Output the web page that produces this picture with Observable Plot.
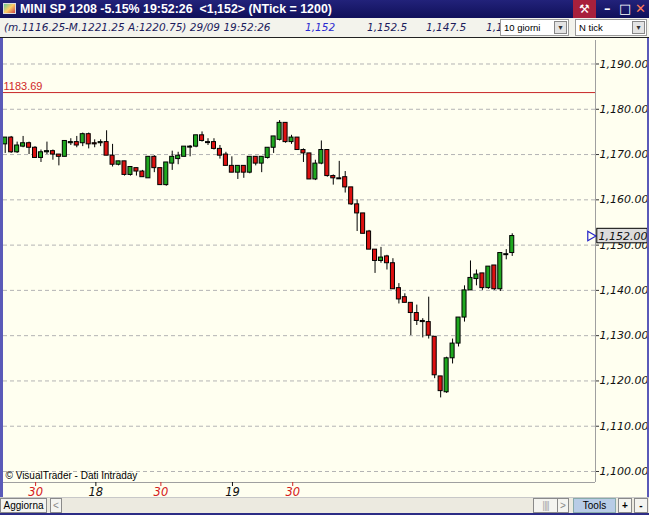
<!DOCTYPE html>
<html>
<head>
<meta charset="utf-8">
<script src="https://cdn.jsdelivr.net/npm/d3@7"></script>
<script src="https://cdn.jsdelivr.net/npm/@observablehq/plot@0.6"></script>
<style>
  html, body { margin: 0; padding: 0; }
  body { width: 649px; height: 515px; overflow: hidden; background: #2c2c86; position: relative; font-family: "DejaVu Sans", sans-serif; }
  #title { position: absolute; left: 0; top: 0; width: 649px; height: 18px; background: linear-gradient(#22227a, #10105a); color: #fff; }
  #title .t { position: absolute; left: 20px; top: 2px; font: bold 12.4px "Liberation Sans", sans-serif; white-space: nowrap; }
  #title .ico { position: absolute; left: 3px; top: 3px; width: 13px; height: 11px; background: linear-gradient(135deg, #6c9 0%, #fc6 50%, #c44 100%); border: 1px solid #ddd; box-sizing: border-box; }
  #title .tool { position: absolute; left: 573px; top: 0; width: 23px; height: 18px; background: #a8203c; color: #fff; font: bold 12px "DejaVu Sans"; text-align: center; line-height: 18px; }
  #title .ctl { position: absolute; top: 0; color: #fff; font: bold 13px "DejaVu Sans"; line-height: 18px; }
  #info { position: absolute; left: 0; top: 18px; width: 649px; height: 19px; background: #f3f3ec; border-bottom: 1px solid #222; }
  #info .t { position: absolute; top: 3px; font: italic 10.5px "DejaVu Sans", sans-serif; color: #1c1c5c; white-space: nowrap; }
  .dd { position: absolute; top: 1px; height: 17px; background: #fff; border: 1px solid #9a9a9a; box-sizing: border-box; font: 9.5px "Liberation Sans", sans-serif; color: #000; line-height: 15px; padding-left: 3px; }
  .dd .b { position: absolute; right: 1px; top: 1px; width: 13px; height: 13px; background: #e4e4e4; border: 1px solid #888; box-sizing: border-box; font: 8px "DejaVu Sans"; text-align: center; line-height: 11px; color: #333; }
  #chart { position: absolute; left: 0; top: 38px; width: 649px; height: 459px; background: #fffff0; }
  #chart svg { display: block; }
  .strip { position: absolute; top: 38px; height: 459px; background: #5a5ab8; }
  #bottom { position: absolute; left: 0; top: 497px; width: 649px; height: 16px; background: #eceae0; border-top: 1px solid #c8c8c8; box-sizing: border-box; font: 10px "Liberation Sans", sans-serif; }
  #bottom .btn { position: absolute; top: 0; height: 15px; border: 1px solid #8a8a8a; box-sizing: border-box; background: #f4f4f0; text-align: center; line-height: 13px; color: #000; }
</style>
</head>
<body>
<div id="title">
  <div class="ico"></div>
  <div class="t">MINI SP 1208 -5.15% 19:52:26&nbsp; &lt;1,152&gt; (NTick = 1200)</div>
  <div class="tool">⚒</div>
  <div class="ctl" style="left:604px">–</div>
  <div class="ctl" style="left:619px">□</div>
  <div class="ctl" style="left:635px;color:#ff7b5a">✕</div>
</div>
<div id="info">
  <div class="t" style="left:4px">(m.1116.25-M.1221.25 A:1220.75) 29/09 19:52:26</div>
  <div class="t" style="left:305px;color:#2a2ad0">1,152</div>
  <div class="t" style="left:367px">1,152.5</div>
  <div class="t" style="left:426px">1,147.5</div>
  <div class="t" style="left:486px">1,1</div>
  <div class="dd" style="left:500px;width:69px">10 giorni<div class="b">▾</div></div>
  <div class="dd" style="left:575px;width:72px">N tick<div class="b">▾</div></div>
</div>
<div id="chart"></div>
<div class="strip" style="left:0;width:3px"></div>
<div class="strip" style="left:647px;width:2px"></div>
<div id="bottom">
  <div class="btn" style="left:0;width:47px">Aggiorna</div>
  <div class="btn" style="left:50px;width:12px;color:#888">&lt;</div>
  <div class="btn" style="left:533px;width:25px;color:#aaa;letter-spacing:-1px">||||</div>
  <div class="btn" style="left:557px;width:12px;color:#888">&gt;</div>
  <div class="btn" style="left:573px;width:43px;background:#b8cce6;border-color:#8aa">Tools</div>
  <div class="btn" style="left:618px;width:14px;font-weight:bold">+</div>
  <div class="btn" style="left:634px;width:14px;font-weight:bold">-</div>
</div>
<script>
// ---- data ----
const open = [1172.25,1173.75,1170.5,1171.75,1172.5,1171.5,1169.25,1170.5,1170.75,1170.0,
  1169.5,1172.5,1172.75,1172.5,1174.5,1172.5,1172.5,1172.75,1169.75,1167.75,
  1168.5,1165.5,1167.0,1166.25,1164.75,1169.5,1167.0,1163.25,1168.0,1169.0,
  1169.5,1171.75,1171.75,1174.25,1172.75,1172.75,1171.25,1170.0,1167.5,1166.0,
  1167.5,1166.0,1169.5,1168.0,1169.25,1171.5,1173.25,1177.0,1172.75,1173.75,
  1171.0,1170.25,1164.5,1168.0,1171.0,1165.25,1164.75,1165.0,1162.75,1159.0,
  1157.0,1153.0,1149.0,1146.5,1147.5,1146.0,1140.5,1138.5,1137.25,1135.0,
  1133.25,1133.0,1129.75,1121.0,1117.5,1125.0,1128.25,1134.0,1140.0,1142.5,
  1143.75,1140.5,1145.5,1140.25,1148.0,1148.25];
const high = [1173.75,1174.0,1172.75,1174.0,1172.75,1171.75,1171.0,1172.75,1171.0,1170.0,
  1173.0,1173.5,1174.0,1174.75,1174.75,1173.25,1173.25,1175.25,1172.25,1168.5,
  1168.5,1167.25,1167.0,1166.5,1169.5,1169.75,1167.0,1168.25,1170.75,1170.5,
  1171.75,1172.0,1174.25,1175.0,1173.5,1173.5,1172.0,1170.5,1169.5,1167.5,
  1167.5,1169.5,1169.5,1169.5,1171.5,1174.0,1177.5,1177.0,1174.25,1173.75,
  1171.25,1170.25,1168.75,1173.0,1171.0,1165.5,1168.5,1166.25,1162.75,1160.0,
  1157.0,1153.25,1149.0,1149.5,1147.75,1147.0,1141.5,1139.25,1137.25,1136.75,
  1133.75,1138.5,1129.75,1121.0,1125.25,1129.25,1134.0,1141.0,1146.5,1144.5,
  1143.75,1145.25,1145.5,1148.25,1149.0,1152.5];
const low = [1170.25,1170.25,1170.25,1171.5,1170.0,1169.25,1168.25,1170.0,1168.75,1167.5,
  1169.5,1172.0,1171.5,1171.75,1171.25,1171.5,1171.75,1169.75,1167.25,1167.5,
  1165.25,1165.25,1165.25,1165.0,1164.75,1166.0,1163.25,1163.0,1166.5,1167.75,
  1169.5,1169.5,1171.5,1172.75,1172.0,1171.0,1169.0,1167.5,1166.0,1164.5,
  1164.75,1165.75,1167.5,1166.0,1169.0,1170.25,1173.0,1172.5,1172.25,1171.0,
  1168.25,1164.5,1164.25,1167.75,1165.0,1163.25,1164.5,1161.5,1158.75,1153.0,
  1152.5,1149.0,1143.75,1146.0,1144.5,1140.25,1137.0,1137.25,1130.0,1132.25,
  1129.5,1129.25,1120.5,1116.25,1117.25,1123.75,1127.5,1133.0,1140.0,1141.0,
  1140.0,1140.25,1140.0,1139.75,1146.75,1147.5];
const close = [1173.75,1170.5,1172.0,1172.5,1171.5,1169.25,1170.5,1170.75,1170.0,1169.5,
  1173.0,1172.75,1172.0,1174.5,1172.25,1172.25,1172.75,1169.75,1167.75,1168.5,
  1165.5,1167.25,1166.25,1165.0,1169.5,1167.0,1163.25,1168.25,1169.5,1169.75,
  1171.75,1171.75,1174.25,1173.0,1172.75,1171.25,1169.75,1167.5,1166.0,1167.5,
  1166.0,1169.5,1168.0,1169.5,1171.5,1174.0,1177.0,1172.75,1173.75,1171.0,
  1170.25,1164.5,1168.0,1171.0,1165.25,1164.75,1164.75,1162.75,1159.0,1157.0,
  1152.5,1149.0,1146.5,1147.25,1146.0,1140.25,1138.0,1137.25,1135.0,1133.25,
  1133.0,1130.0,1121.25,1117.75,1125.0,1128.25,1134.0,1140.0,1142.75,1143.5,
  1140.5,1145.25,1140.25,1148.25,1148.0,1152.0];
const yTicks = [1100,1110,1120,1130,1140,1150,1160,1170,1180,1190];
const xTickPos = [5.1, 15.2, 26.1, 38.1, 48.2];
const xTickLabels = ["30","18","30","19","30"];
const xTickColors = ["#d42020","#111","#d42020","#111","#d42020"];
const refLevel = 1183.69;
const lastPrice = 1152;

// ---- table ----
const bars = open.map((o, i) => ({i, open: o, high: high[i], low: low[i], close: close[i]}));
const dojis = bars.filter(d => d.open === d.close);
const xDomain = [-0.285, 98.96];
const yDomain = [1097.57, 1195.19];
const RED = "#dd1010", GREEN = "#1fa81f";
const tickColor = new Map(xTickPos.map((p, k) => [p, xTickColors[k]]));
const tickLabel = new Map(xTickPos.map((p, k) => [p, xTickLabels[k]]));

const chart = Plot.plot({
  width: 649,
  height: 459,
  marginTop: 2,
  marginBottom: 15,
  marginLeft: 3,
  marginRight: 54,
  style: {background: "#fffff0", fontFamily: "DejaVu Sans, sans-serif", overflow: "visible"},
  x: {domain: xDomain, axis: null, label: null},
  y: {domain: yDomain, axis: null, label: null},
  color: {type: "identity"},
  marks: [
    Plot.ruleY(yTicks, {stroke: "#b4b4b4", strokeDasharray: "4,3"}),
    Plot.ruleY([refLevel], {stroke: "#c82828", strokeWidth: 1}),
    Plot.text([refLevel], {y: d => d, text: d => d.toFixed(2), frameAnchor: "left", textAnchor: "start", dx: 0, dy: -6, fill: "#d02828", fontSize: 11, fontFamily: "Liberation Sans, sans-serif"}),
    Plot.ruleX(bars, {x: "i", y1: "low", y2: "high", stroke: "#000", strokeWidth: 1}),
    Plot.rect(bars, {x1: d => d.i - 0.34, x2: d => d.i + 0.34, y1: "open", y2: "close",
      fill: d => d.close >= d.open ? GREEN : RED, stroke: "#000", strokeWidth: 1}),
    Plot.ruleY(dojis, {y: "close", x1: d => d.i - 0.42, x2: d => d.i + 0.42, stroke: "#000", strokeWidth: 2}),
    Plot.ruleX([xDomain[1]], {stroke: "#a0a0a0"}),
    Plot.ruleY([yDomain[0]], {stroke: "#a0a0a0"}),
    Plot.axisY(yTicks, {anchor: "right", label: null, tickSize: 3, tickPadding: 1, tickFormat: d3.format(",.2f"),
      fontSize: 11, fontStyle: "italic", fill: "#111", stroke: "#333"}),
    Plot.axisX(xTickPos, {anchor: "bottom", label: null, tickSize: 4, tickPadding: 1, tickFormat: d => tickLabel.get(d),
      fontSize: 11.5, fontStyle: "italic", stroke: d => tickColor.get(d), fill: d => tickColor.get(d)}),
    Plot.text(["© VisualTrader - Dati Intraday"], {text: d => d, frameAnchor: "bottom-left", dx: 2, dy: -4, fill: "#000", fontSize: 10, fontFamily: "Liberation Sans, sans-serif"}),
    Plot.dot([lastPrice], {y: d => d, frameAnchor: "right", dx: -5, symbol: "triangle", rotate: 90, r: 3.5, stroke: "#2323c8", fill: "none", strokeWidth: 1.2}),
    Plot.rect([lastPrice], {x1: xDomain[1] + 0.3, x2: xDomain[1] + 8.75, y1: d => d - 1.6, y2: d => d + 1.6, fill: "#dcdcdc", stroke: "#000", strokeWidth: 1}),
    Plot.text([lastPrice], {y: d => d, text: d => d3.format(",.2f")(d), frameAnchor: "right", textAnchor: "start", dx: 3, fill: "#111", fontSize: 11, fontStyle: "italic"})
  ]
});
document.getElementById("chart").appendChild(chart);
</script>
</body>
</html>
